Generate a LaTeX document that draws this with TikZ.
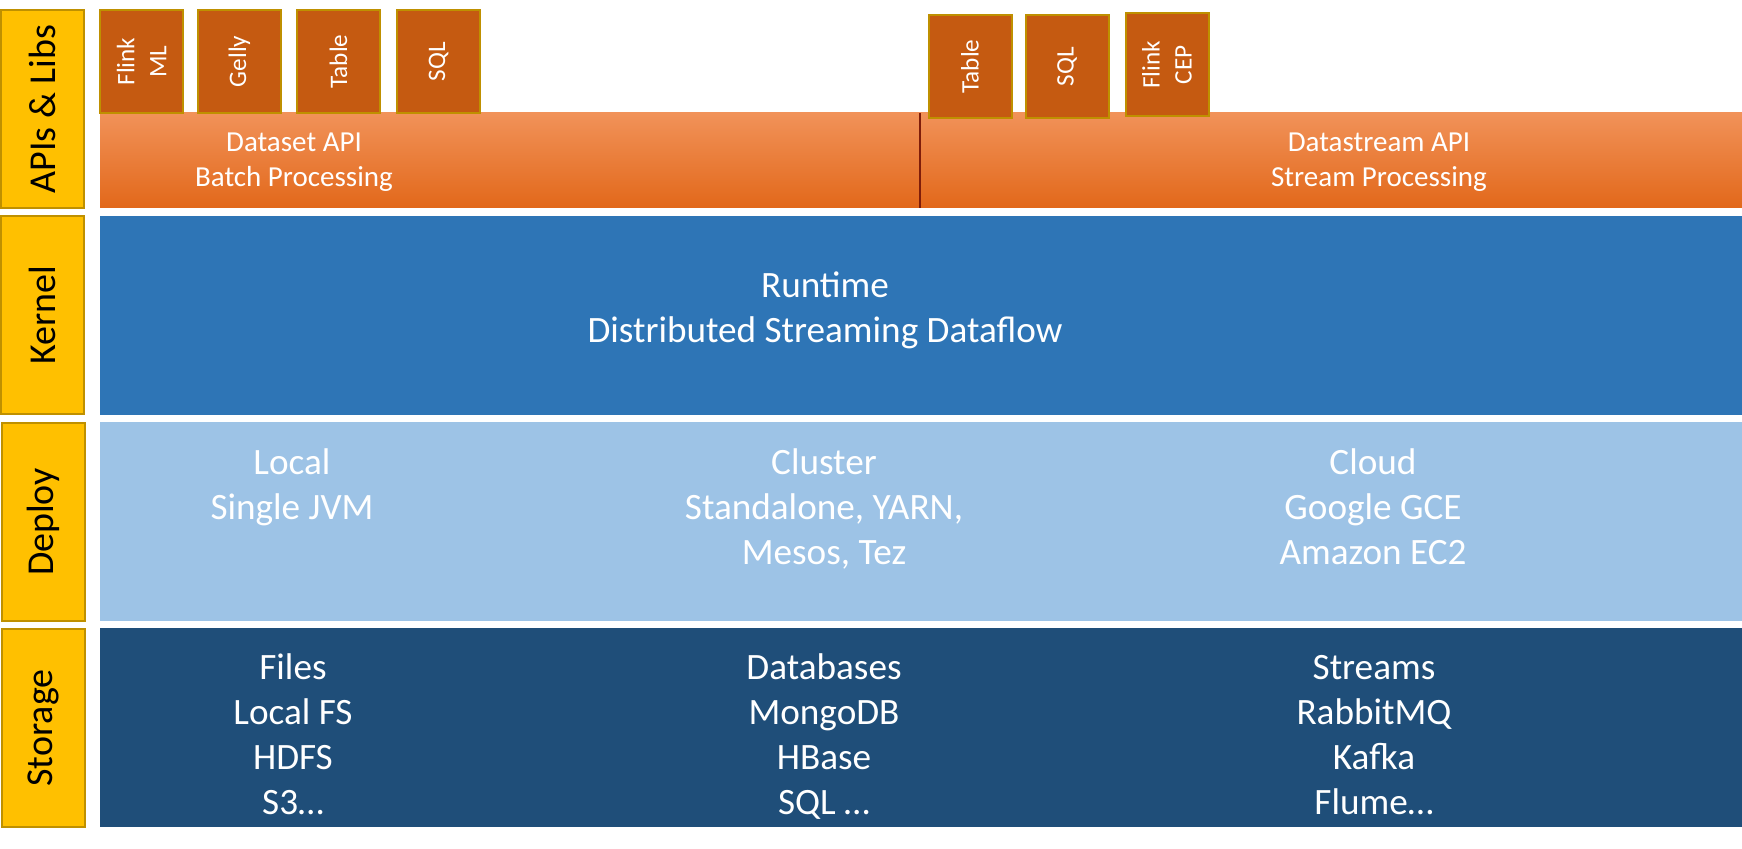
\documentclass[tikz,border=0pt]{standalone}
\usepackage{fontspec}
\setmainfont{Carlito}
\usepackage{tikz}
\usetikzlibrary{positioning}

\definecolor{labelgold}{HTML}{FFC000}
\definecolor{edgegold}{HTML}{BF9000}
\definecolor{librust}{HTML}{C55A11}
\definecolor{apitop}{HTML}{F19259}
\definecolor{apimid}{HTML}{F47D2B}
\definecolor{apibot}{HTML}{E2681A}
\definecolor{kernelblue}{HTML}{2E75B6}
\definecolor{deployblue}{HTML}{9DC3E6}
\definecolor{storageblue}{HTML}{1F4E79}
\definecolor{splitred}{HTML}{7F1D0A}

\begin{document}
\begin{tikzpicture}[x=0.5pt, y=-0.5pt,
		basic/.style  = {rectangle, inner sep=0pt, outer sep=0pt},
		layer/.style  = {basic, draw=edgegold, line width=1pt, fill=labelgold, rotate=90, minimum width=99pt, minimum height=41.5pt, font=\fontsize{19}{22}\selectfont},
		lib/.style    = {basic, draw=edgegold, line width=1pt, fill=librust, rotate=90, minimum width=51.5pt, minimum height=41.5pt, text=white, align=center, font=\fontsize{12.6}{16}\selectfont},
		apibar/.style = {basic, top color=apitop, middle color=apimid, bottom color=apibot, minimum height=47.5pt},
		bar/.style    = {basic, minimum width=821pt, minimum height=99.5pt},
		apitext/.style = {inner sep=0pt, text=white, align=center, anchor=base, font=\fontsize{14.5}{17.5}\selectfont},
		bartext/.style = {inner sep=0pt, text=white, align=center, anchor=base, font=\fontsize{18.6}{22.5}\selectfont}]

		\useasboundingbox (0,0) rectangle (1742,849);

		% Layer labels on the left
		\node[layer] (apis)    at (42.5,109) {APIs \& Libs};
		\node[layer] (kernel)  at (42.5,315) {Kernel};
		\node[layer] (deploy)  at (43.5,522) {Deploy};
		\node[layer] (storage) at (43.5,728) {Storage};

		% API bar, split in two halves
		\node[apibar, minimum width=410pt] (dataset)    at (510,160.5) {};
		\node[apibar, minimum width=411pt] (datastream) at (1331,160.5) {};
		\draw[splitred, line width=1pt] (dataset.north east) -- (dataset.south east);

		% text nodes sit on the baseline of their last line
		\node[apitext] (batch)  at (294,187)  {Dataset API\\Batch Processing};
		\node[apitext] (stream) at (1379,187) {Datastream API\\Stream Processing};

		% Libraries on top of the APIs
		\foreach \n/\xc/\txt in {1/141.5/{Flink\\ML}, 2/239.5/Gelly, 3/338.5/Table, 4/438.5/SQL}
		\node[lib] (setlib\n) at (\xc,61.5) {\txt};

		\foreach \n/\xc/\yc/\txt in {1/970/66.5/Table, 2/1067/66.5/SQL, 3/1167/65/{Flink\\CEP}}
		\node[lib] (streamlib\n) at (\xc,\yc) {\txt};

		% Kernel, deploy and storage bars
		\node[bar, fill=kernelblue]  (runtime) at (921,315.5) {};
		\node[bar, fill=deployblue]  (modes)   at (921,521.5) {};
		\node[bar, fill=storageblue] (sources) at (921,728) {};

		\node[bartext] (dataflow) at (825,343) {Runtime\\Distributed Streaming Dataflow};

		\node[bartext] (local)   at (292,520)  {Local\\Single JVM};
		\node[bartext] (cluster) at (824,565)  {Cluster\\Standalone, YARN,\\Mesos, Tez};
		\node[bartext] (cloud)   at (1373,565) {Cloud\\Google GCE\\Amazon EC2};

		\node[bartext] (files)     at (293,815)  {Files\\Local FS\\HDFS\\S3…};
		\node[bartext] (databases) at (824,815)  {Databases\\MongoDB\\HBase\\SQL …};
		\node[bartext] (streams)   at (1374,815) {Streams\\RabbitMQ\\Kafka\\Flume…};

	\end{tikzpicture}
\end{document}
